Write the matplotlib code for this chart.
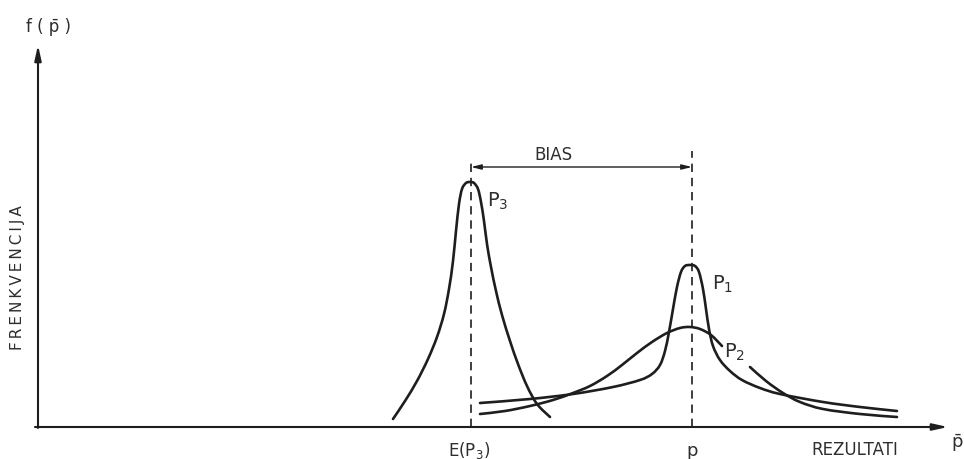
import numpy as np
import matplotlib
matplotlib.use("Agg")
import matplotlib.pyplot as plt
from matplotlib.path import Path
from matplotlib.patches import PathPatch

# ---- data (image pixels; origin of axes at px (38, 428)) ----
X0, Y0 = 38, 428

p3_px = [393, 405, 417, 428, 437, 444, 449, 453, 456, 459, 462, 466, 470,
         474, 478, 481, 484, 487, 491, 496, 502, 510, 518, 527, 537, 550]
p3_py = [420, 402, 382, 360, 338, 315, 290, 262, 232, 205, 190, 184, 183,
         184, 190, 203, 222, 245, 268, 292, 316, 342, 365, 387, 405, 418]

p1_px = [480, 530, 573, 613, 640, 652, 660, 665, 669, 673, 677, 681, 685, 690, 695,
         699, 703, 706, 709, 713, 720, 730, 742, 760, 780, 823, 860, 897]
p1_py = [404, 400, 395, 388, 381, 375, 366, 352, 333, 310, 288, 273, 267, 266, 267,
         273, 290, 310, 330, 347, 361, 372, 381, 389, 395, 403, 408, 412]

p2a_px = [480, 505, 530, 553, 573, 590, 607, 622, 637, 652, 667, 680, 690, 700, 711, 722]
p2a_py = [415, 412, 407, 401, 394, 387, 377, 366, 354, 343, 334, 329, 328, 330, 336, 347]
p2b_px = [750, 766, 783, 800, 823, 860, 897]
p2b_py = [368, 382, 394, 403, 410, 415, 418]

e_p3_px = 471      # E(P3)
p_true_px = 692    # p
bias_py = 168


def cx(v):
    return np.asarray(v, dtype=float) - X0


def cy(v):
    return Y0 - np.asarray(v, dtype=float)


def smooth_path(xs, ys):
    """Cubic Bezier path through the read points (Catmull-Rom control points)."""
    P = np.column_stack([xs, ys])
    n = len(P)
    verts = [P[0]]
    codes = [Path.MOVETO]
    for i in range(n - 1):
        p0 = P[i - 1] if i > 0 else P[i]
        p1 = P[i]
        p2 = P[i + 1]
        p3 = P[i + 2] if i + 2 < n else P[i + 1]
        c1 = p1 + (p2 - p0) / 6.0
        c2 = p2 - (p3 - p1) / 6.0
        verts += [c1, c2, p2]
        codes += [Path.CURVE4] * 3
    return Path(verts, codes)


fig = plt.figure(figsize=(9.64, 4.6), dpi=100)
ax = fig.add_axes([0, 0, 1, 1])
ax.set_xlim(-X0, 964 - X0)
ax.set_ylim(Y0 - 460, Y0)
ax.axis("off")

ink = "#1e1e1e"
txt = "#2e2e2e"
lw = 1.9

# curves
for xs, ys in [(p3_px, p3_py), (p1_px, p1_py), (p2a_px, p2a_py), (p2b_px, p2b_py)]:
    ax.add_patch(PathPatch(smooth_path(cx(xs), cy(ys)), facecolor="none", edgecolor=ink,
                           lw=lw, capstyle="round", joinstyle="round"))

# axes with arrows
ax.annotate("", xy=(0, cy(46)), xytext=(0, cy(429)),
            arrowprops=dict(arrowstyle="-|>,head_length=0.9,head_width=0.2", lw=1.5, color=ink,
                            shrinkA=0, shrinkB=0))
ax.annotate("", xy=(cx(948), 0), xytext=(cx(35), 0),
            arrowprops=dict(arrowstyle="-|>,head_length=0.9,head_width=0.2", lw=1.5, color=ink,
                            shrinkA=0, shrinkB=0))

# dashed verticals
ax.plot([cx(e_p3_px)] * 2, [0, cy(160)], color=ink, lw=1.2, ls=(0, (5, 3.5)))
ax.plot([cx(p_true_px)] * 2, [0, cy(152)], color=ink, lw=1.2, ls=(0, (5, 3.5)))

# bias arrow
ax.annotate("", xy=(cx(e_p3_px), cy(bias_py)), xytext=(cx(p_true_px), cy(bias_py)),
            arrowprops=dict(arrowstyle="<|-|>,head_length=0.6,head_width=0.15", lw=1.0,
                            color=ink, shrinkA=0, shrinkB=0))
ax.text(cx(553), cy(155), "BIAS", ha="center", va="center", fontsize=12, color=txt)

# curve labels
ax.text(cx(487), cy(201), "P$_3$", ha="left", va="center", fontsize=14, color=txt)
ax.text(cx(712), cy(284), "P$_1$", ha="left", va="center", fontsize=14, color=txt)
ax.text(cx(724), cy(352), "P$_2$", ha="left", va="center", fontsize=14, color=txt)

# axis texts
thin = "\u2009"
ax.text(cx(48), cy(27), "f ( p\u0304 )", ha="center", va="center", fontsize=12, color=txt)
ax.text(cx(18), cy(278), thin.join("FRENKVENCIJA"), ha="center", va="center", rotation=90,
        fontsize=11, color=txt)
ax.text(cx(469), cy(451), "E(P$_3$)", ha="center", va="center", fontsize=12, color=txt)
ax.text(cx(692), cy(451), "p", ha="center", va="center", fontsize=13, color=txt)
ax.text(cx(855), cy(450), "REZULTATI", ha="center", va="center", fontsize=12, color=txt)
ax.text(cx(957), cy(442), "p\u0304", ha="center", va="center", fontsize=13, color=txt)

fig.savefig("out.png", dpi=100, facecolor="white")
